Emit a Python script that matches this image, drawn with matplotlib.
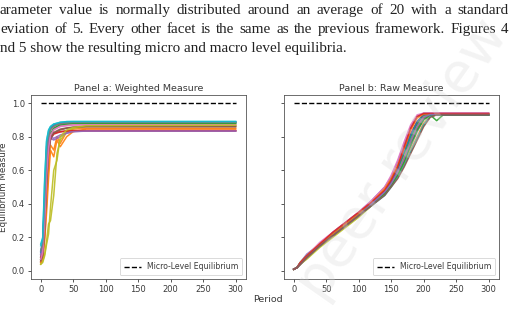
import numpy as np
import matplotlib.pyplot as plt

# paragraph lines above the figure (page screenshot)
para = [
    "arameter value is normally distributed around an average of 20 with a standard",
    "eviation of 5.  Every other facet is the same as the previous framework.  Figures 4",
    "nd 5 show the resulting micro and macro level equilibria.",
]
para_justify = [True, True, False]

# Panel a: weighted measure, periods sampled by hand
t_a = [0, 3, 6, 9, 12, 15, 20, 25, 30, 40, 50, 70, 300]
series_a = [
    [0.12, 0.18, 0.45, 0.74, 0.82, 0.85, 0.870, 0.875, 0.880, 0.885, 0.885, 0.885, 0.885],
    [0.06, 0.09, 0.20, 0.40, 0.62, 0.75, 0.720, 0.800, 0.760, 0.830, 0.845, 0.850, 0.850],
    [0.08, 0.12, 0.30, 0.60, 0.76, 0.82, 0.850, 0.860, 0.870, 0.875, 0.880, 0.880, 0.880],
    [0.07, 0.10, 0.28, 0.58, 0.74, 0.80, 0.820, 0.825, 0.830, 0.835, 0.835, 0.835, 0.835],
    [0.09, 0.12, 0.32, 0.62, 0.76, 0.79, 0.780, 0.790, 0.800, 0.820, 0.830, 0.833, 0.833],
    [0.05, 0.08, 0.22, 0.50, 0.70, 0.78, 0.820, 0.830, 0.840, 0.850, 0.855, 0.860, 0.860],
    [0.06, 0.10, 0.26, 0.55, 0.72, 0.80, 0.840, 0.850, 0.860, 0.865, 0.870, 0.870, 0.870],
    [0.10, 0.15, 0.40, 0.70, 0.80, 0.84, 0.860, 0.870, 0.875, 0.880, 0.885, 0.885, 0.885],
    [0.04, 0.06, 0.10, 0.18, 0.28, 0.30, 0.450, 0.700, 0.780, 0.830, 0.850, 0.862, 0.865],
    [0.16, 0.20, 0.55, 0.78, 0.84, 0.86, 0.875, 0.880, 0.885, 0.890, 0.890, 0.890, 0.890],
    [0.11, 0.16, 0.42, 0.72, 0.81, 0.85, 0.868, 0.875, 0.880, 0.885, 0.887, 0.887, 0.887],
    [0.05, 0.08, 0.18, 0.35, 0.55, 0.72, 0.680, 0.780, 0.740, 0.800, 0.830, 0.845, 0.845],
    [0.07, 0.11, 0.27, 0.57, 0.75, 0.81, 0.845, 0.860, 0.868, 0.874, 0.878, 0.878, 0.878],
    [0.08, 0.11, 0.29, 0.59, 0.73, 0.79, 0.815, 0.822, 0.828, 0.833, 0.836, 0.836, 0.836],
    [0.10, 0.13, 0.34, 0.64, 0.77, 0.80, 0.790, 0.800, 0.810, 0.822, 0.830, 0.834, 0.834],
    [0.06, 0.09, 0.24, 0.52, 0.71, 0.79, 0.825, 0.835, 0.845, 0.852, 0.857, 0.860, 0.860],
    [0.07, 0.11, 0.28, 0.57, 0.73, 0.81, 0.842, 0.852, 0.862, 0.867, 0.870, 0.870, 0.870],
    [0.12, 0.16, 0.42, 0.71, 0.81, 0.845, 0.862, 0.872, 0.877, 0.882, 0.885, 0.885, 0.885],
    [0.04, 0.05, 0.09, 0.16, 0.22, 0.38, 0.600, 0.660, 0.800, 0.840, 0.855, 0.865, 0.868],
    [0.15, 0.19, 0.52, 0.77, 0.835, 0.86, 0.875, 0.880, 0.886, 0.889, 0.890, 0.890, 0.890],
]

# Panel b: raw measure
t_b = [0, 5, 10, 20, 40, 60, 80, 100, 120, 140, 150, 160, 170, 180, 190, 200, 210, 220, 230, 300]
series_b = [
    [0.01, 0.02, 0.05, 0.09, 0.16, 0.22, 0.28, 0.34, 0.40, 0.47, 0.52, 0.59, 0.68, 0.78, 0.87, 0.925, 0.930, 0.930, 0.930, 0.930],
    [0.01, 0.02, 0.04, 0.08, 0.15, 0.21, 0.27, 0.33, 0.39, 0.46, 0.51, 0.57, 0.64, 0.72, 0.80, 0.880, 0.920, 0.930, 0.930, 0.930],
    [0.01, 0.02, 0.05, 0.09, 0.15, 0.22, 0.27, 0.33, 0.40, 0.47, 0.53, 0.60, 0.70, 0.80, 0.88, 0.930, 0.930, 0.895, 0.930, 0.930],
    [0.01, 0.02, 0.04, 0.08, 0.16, 0.22, 0.28, 0.34, 0.41, 0.48, 0.54, 0.62, 0.72, 0.82, 0.89, 0.930, 0.935, 0.935, 0.935, 0.935],
    [0.01, 0.02, 0.05, 0.10, 0.16, 0.23, 0.29, 0.35, 0.42, 0.50, 0.56, 0.65, 0.76, 0.86, 0.92, 0.940, 0.940, 0.940, 0.940, 0.940],
    [0.01, 0.02, 0.04, 0.08, 0.15, 0.21, 0.27, 0.33, 0.40, 0.47, 0.52, 0.58, 0.66, 0.76, 0.85, 0.910, 0.930, 0.930, 0.930, 0.930],
    [0.01, 0.02, 0.05, 0.09, 0.17, 0.23, 0.29, 0.35, 0.42, 0.50, 0.57, 0.66, 0.77, 0.87, 0.93, 0.940, 0.940, 0.940, 0.940, 0.940],
    [0.01, 0.02, 0.04, 0.08, 0.15, 0.21, 0.27, 0.33, 0.39, 0.46, 0.51, 0.58, 0.66, 0.74, 0.83, 0.900, 0.930, 0.930, 0.930, 0.930],
    [0.01, 0.02, 0.04, 0.07, 0.14, 0.20, 0.26, 0.32, 0.39, 0.46, 0.52, 0.59, 0.68, 0.77, 0.86, 0.920, 0.935, 0.935, 0.935, 0.935],
    [0.01, 0.02, 0.05, 0.09, 0.15, 0.21, 0.27, 0.33, 0.39, 0.45, 0.50, 0.56, 0.63, 0.71, 0.79, 0.870, 0.920, 0.930, 0.930, 0.930],
    [0.01, 0.02, 0.04, 0.08, 0.15, 0.22, 0.28, 0.34, 0.40, 0.47, 0.53, 0.61, 0.71, 0.81, 0.89, 0.930, 0.930, 0.930, 0.930, 0.930],
    [0.01, 0.02, 0.05, 0.09, 0.16, 0.22, 0.28, 0.34, 0.41, 0.49, 0.55, 0.63, 0.73, 0.84, 0.91, 0.935, 0.935, 0.935, 0.935, 0.935],
    [0.01, 0.02, 0.04, 0.08, 0.15, 0.21, 0.27, 0.33, 0.40, 0.46, 0.51, 0.57, 0.65, 0.75, 0.84, 0.900, 0.930, 0.930, 0.930, 0.930],
    [0.01, 0.02, 0.05, 0.09, 0.16, 0.23, 0.29, 0.35, 0.41, 0.48, 0.54, 0.62, 0.74, 0.85, 0.92, 0.938, 0.938, 0.938, 0.938, 0.938],
    [0.01, 0.02, 0.04, 0.08, 0.15, 0.21, 0.27, 0.33, 0.40, 0.47, 0.52, 0.59, 0.67, 0.77, 0.86, 0.915, 0.932, 0.932, 0.932, 0.932],
    [0.01, 0.02, 0.04, 0.08, 0.15, 0.21, 0.27, 0.33, 0.39, 0.45, 0.50, 0.55, 0.62, 0.70, 0.78, 0.860, 0.915, 0.930, 0.930, 0.930],
]

equilibrium = 1.0
titles = ["Panel a: Weighted Measure", "Panel b: Raw Measure"]
xticks = [0, 50, 100, 150, 200, 250, 300]
yticks = [0.0, 0.2, 0.4, 0.6, 0.8, 1.0]

txt_col = '#3a3a3a'
fig = plt.figure(figsize=(5.1, 3.18), dpi=100)

# page text, justified by hand
renderer = fig.canvas.get_renderer()
line_y = [0.968, 0.908, 0.848]
x_left, x_right = 0.0, 0.997
for line, just, yy in zip(para, para_justify, line_y):
    kw = dict(fontsize=10.9, family='Liberation Serif', color='#222222', va='center')
    if not just:
        fig.text(x_left, yy, line, **kw)
        continue
    words = line.split()
    arts = [fig.text(0, yy, w, **kw) for w in words]
    widths = [a.get_window_extent(renderer).width / fig.bbox.width for a in arts]
    gap = (x_right - x_left - sum(widths)) / (len(words) - 1)
    x = x_left
    for a, w in zip(arts, widths):
        a.set_x(x)
        x += w + gap

ax1 = fig.add_axes([0.0608, 0.1226, 0.4216, 0.5786])
ax2 = fig.add_axes([0.5569, 0.1226, 0.4216, 0.5786])

for ax, t, series, title in zip([ax1, ax2], [t_a, t_b], [series_a, series_b], titles):
    for s in series:
        ax.plot(t, s, lw=1.1, alpha=0.9)
    ax.plot([0, 300], [equilibrium, equilibrium], 'k--', lw=1.0, label='Micro-Level Equilibrium')
    ax.set_xlim(-15, 316)
    ax.set_ylim(-0.048, 1.048)
    ax.set_xticks(xticks)
    ax.set_yticks(yticks)
    ax.tick_params(labelsize=6, length=2.5, width=0.6, pad=2, colors=txt_col)
    ax.set_title(title, fontsize=6.8, pad=3, color=txt_col)
    for sp in ax.spines.values():
        sp.set_linewidth(0.6)
        sp.set_color('#555555')
    leg = ax.legend(loc='lower right', fontsize=5.6, handlelength=2.2, borderpad=0.5,
                    framealpha=1, edgecolor='#cccccc')
    for tx in leg.get_texts():
        tx.set_color(txt_col)
    leg.get_frame().set_linewidth(0.5)

ax2.set_yticklabels([])

fig.text(0.526, 0.057, "Period", fontsize=6.8, ha='center', va='center', color=txt_col)
fig.text(0.006, 0.41, "Equilibrium Measure", fontsize=6.3, rotation=90, ha='center', va='center', color=txt_col)

# faint review watermark over the page
fig.text(0.79, 0.50, "peer review", fontsize=40, rotation=55, ha='center', va='center',
         color='#d8d8d8', alpha=0.3, zorder=10, family='DejaVu Sans')

fig.savefig("out.png", dpi=100)
